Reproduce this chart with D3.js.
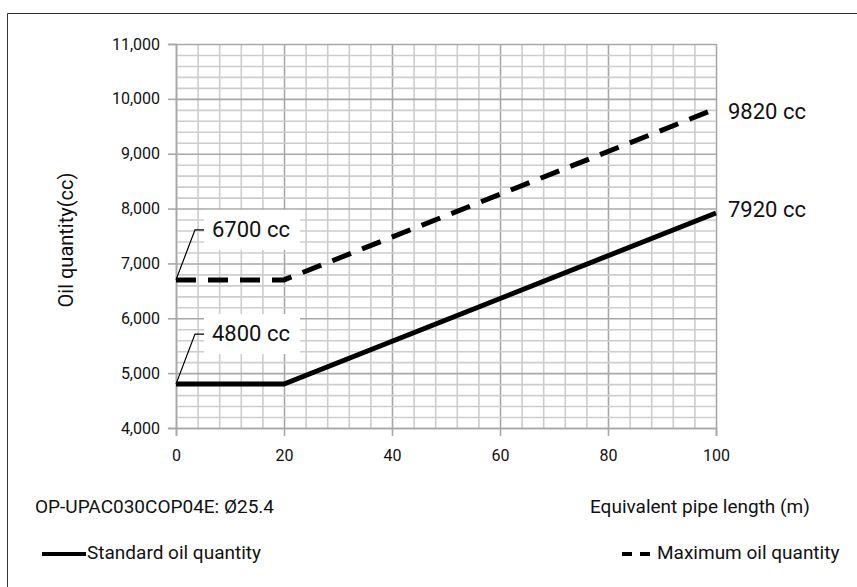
<!DOCTYPE html>
<html>
<head>
<meta charset="utf-8">
<script src="https://cdn.jsdelivr.net/npm/d3@7"></script>
<style>
  body { margin: 0; background: #fff; }
  text { font-family: Roboto, "Open Sans", sans-serif; fill: #111; }
</style>
</head>
<body>
<svg id="chart" width="857" height="587"></svg>
<script>
// pipe length (m) and oil quantity (cc)
var pipeLength = [0, 20, 100];
var standardOil = [4800, 4800, 7920];
var maximumOil = [6700, 6700, 9820];
var xTicks = [0, 20, 40, 60, 80, 100];
var yTicks = [4000, 5000, 6000, 7000, 8000, 9000, 10000, 11000];
var seriesNames = ["Standard oil quantity", "Maximum oil quantity"];
var modelNote = "OP-UPAC030COP04E: Ø25.4";

var svg = d3.select("#chart");

var x = d3.scaleLinear().domain([0, 100]).range([176, 716]);
var y = d3.scaleLinear().domain([4000, 11000]).range([428, 44]);

// outer frame (top + left only)
svg.append("path")
  .attr("d", "M7.5,587 L7.5,13.5 L857,13.5")
  .attr("fill", "none").attr("stroke", "#333").attr("stroke-width", 1);

// grid
var grid = svg.append("g");
grid.selectAll("line.vminor")
  .data(d3.range(0, 101, 4))
  .enter().append("line")
    .attr("x1", function(d) { return x(d) + 0.5; })
    .attr("x2", function(d) { return x(d) + 0.5; })
    .attr("y1", y(11000)).attr("y2", y(4000))
    .attr("stroke", function(d) { return d % 20 === 0 ? "#a8a8a8" : "#cdcdcd"; })
    .attr("stroke-width", 1.6);
grid.selectAll("line.hminor")
  .data(d3.range(4000, 11001, 200))
  .enter().append("line")
    .attr("y1", function(d) { return y(d) + 0.5; })
    .attr("y2", function(d) { return y(d) + 0.5; })
    .attr("x1", x(0)).attr("x2", x(100))
    .attr("stroke", function(d) { return d % 1000 === 0 ? "#a8a8a8" : "#cdcdcd"; })
    .attr("stroke-width", 1.6);

// axes
var yAxis = d3.axisLeft(y).tickValues(yTicks).tickSize(8).tickPadding(8)
  .tickFormat(d3.format(","));
var xAxis = d3.axisBottom(x).tickValues(xTicks).tickSize(8).tickPadding(14);

var gy = svg.append("g").attr("transform", "translate(" + x(0) + ",0)").call(yAxis);
var gx = svg.append("g").attr("transform", "translate(0," + y(4000) + ")").call(xAxis);
[gx, gy].forEach(function(g) {
  g.select(".domain").attr("stroke", "#a8a8a8").attr("stroke-width", 1.6);
  g.selectAll(".tick line").attr("stroke", "#a8a8a8").attr("stroke-width", 1.6);
  g.selectAll(".tick text").style("font-size", "16px").attr("fill", "#111");
});

// lines
var line = d3.line()
  .x(function(d, i) { return x(pipeLength[i]); })
  .y(function(d) { return y(d); });

svg.append("path").datum(standardOil)
  .attr("d", line)
  .attr("fill", "none").attr("stroke", "#000").attr("stroke-width", 5);

svg.append("path").datum(maximumOil)
  .attr("d", line)
  .attr("fill", "none").attr("stroke", "#000").attr("stroke-width", 5)
  .attr("stroke-dasharray", "20,12");

// end labels
svg.append("text").attr("x", x(100) + 12).attr("y", y(maximumOil[2]) + 4)
  .attr("dominant-baseline", "middle").style("font-size", "22px")
  .text(maximumOil[2] + " cc");
svg.append("text").attr("x", x(100) + 12).attr("y", y(standardOil[2]) - 2)
  .attr("dominant-baseline", "middle").style("font-size", "22px")
  .text(standardOil[2] + " cc");

// start callouts
[maximumOil[0], standardOil[0]].forEach(function(v) {
  var py = y(v), ty = py - 50;
  svg.append("rect").attr("x", 204).attr("y", ty - 20).attr("width", 96).attr("height", 40)
    .attr("fill", "#fff");
  svg.append("path")
    .attr("d", "M" + x(0) + "," + py + " L195," + ty + " L204," + ty)
    .attr("fill", "none").attr("stroke", "#000").attr("stroke-width", 1.2);
  svg.append("text").attr("x", 212).attr("y", ty + 1)
    .attr("dominant-baseline", "middle").style("font-size", "22px")
    .text(v + " cc");
});

// axis titles
svg.append("text")
  .attr("transform", "translate(68,240) rotate(-90)")
  .attr("text-anchor", "middle").attr("dominant-baseline", "middle")
  .style("font-size", "20px").text("Oil quantity(cc)");
svg.append("text").attr("x", 590).attr("y", 508)
  .attr("dominant-baseline", "middle").style("font-size", "19px")
  .text("Equivalent pipe length (m)");
svg.append("text").attr("x", 35).attr("y", 508)
  .attr("dominant-baseline", "middle").style("font-size", "19px")
  .text(modelNote);

// legend
var legend = [
  { name: seriesNames[0], x1: 42, x2: 86, dash: null },
  { name: seriesNames[1], x1: 622, x2: 652, dash: "10,8" }
];
legend.forEach(function(d) {
  svg.append("line").attr("x1", d.x1).attr("x2", d.x2).attr("y1", 554).attr("y2", 554)
    .attr("stroke", "#000").attr("stroke-width", 4)
    .attr("stroke-dasharray", d.dash);
  svg.append("text").attr("x", d.x2 + (d.dash ? 5 : 1)).attr("y", 554)
    .attr("dominant-baseline", "middle").style("font-size", "19px")
    .text(d.name);
});
</script>
</body>
</html>
